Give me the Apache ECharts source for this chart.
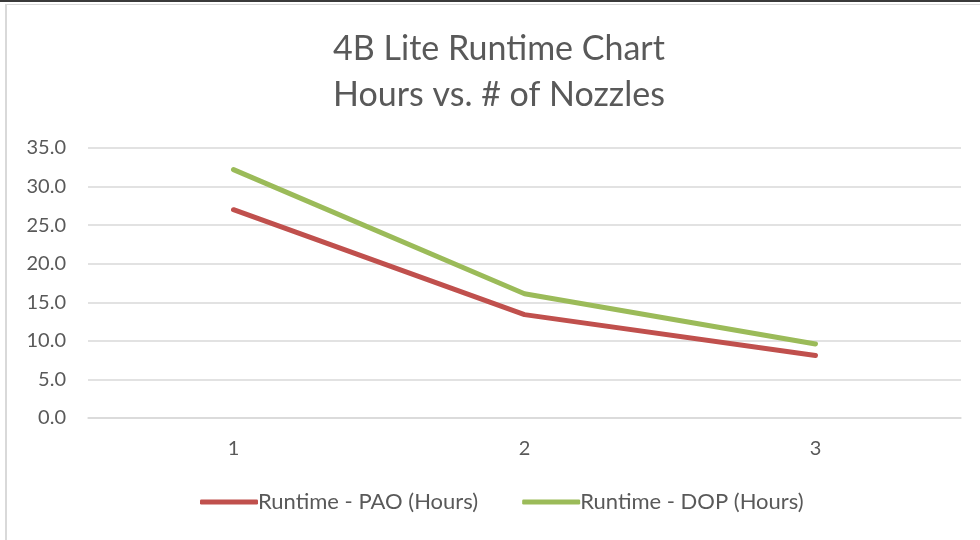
<!DOCTYPE html>
<html>
<head>
<meta charset="utf-8">
<script src="https://cdn.jsdelivr.net/npm/echarts@6/dist/echarts.min.js"></script>
<style>html,body{margin:0;padding:0;background:#fff;}#c{width:980px;height:540px;}</style>
</head>
<body>
<div id="c"></div>
<script>
var titleLines = ['4B Lite Runtime Chart', 'Hours vs. # of Nozzles'];
var categories = ['1', '2', '3'];
var seriesNames = ['Runtime - PAO (Hours)', 'Runtime - DOP (Hours)'];
var paoValues = [27.0, 13.4, 8.1];
var dopValues = [32.2, 16.1, 9.6];
var yMin = 0, yMax = 35, yStep = 5;

var chart = echarts.init(document.getElementById('c'), null, {renderer: 'canvas'});
var font = 'Lato, "Open Sans", "Liberation Sans", sans-serif';
chart.setOption({
  backgroundColor: '#ffffff',
  animation: false,
  graphic: [
    {type: 'rect', shape: {x: 0, y: 0, width: 980, height: 2}, style: {fill: '#3a3a3a'}, silent: true},
    {type: 'rect', shape: {x: 5, y: 4, width: 975, height: 1}, style: {fill: '#d9d9d9'}, silent: true},
    {type: 'rect', shape: {x: 5, y: 4, width: 2, height: 536}, style: {fill: '#d9d9d9'}, silent: true}
  ],
  title: {
    text: titleLines.join('\n'),
    left: 494,
    textAlign: 'center',
    top: 21,
    textStyle: {fontFamily: font, fontSize: 34, fontWeight: 'normal', color: '#595959', lineHeight: 46}
  },
  legend: {
    bottom: 22,
    left: 195,
    itemWidth: 58,
    itemHeight: 5,
    itemGap: 44,
    icon: 'roundRect',
    textStyle: {fontFamily: font, fontSize: 22, color: '#595959', padding: [0, 0, 0, -5]},
    data: seriesNames
  },
  grid: {left: 88, right: 19, top: 148, bottom: 122, containLabel: false},
  xAxis: {
    type: 'category',
    data: categories,
    boundaryGap: true,
    axisLine: {show: true, lineStyle: {color: '#d9d9d9', width: 1.5}},
    axisTick: {show: false},
    axisLabel: {fontFamily: font, fontSize: 20, color: '#595959', margin: 21}
  },
  yAxis: {
    type: 'value',
    min: yMin, max: yMax, interval: yStep,
    axisLine: {show: false},
    axisTick: {show: false},
    splitLine: {lineStyle: {color: '#d9d9d9', width: 1.5}},
    axisLabel: {fontFamily: font, fontSize: 20, color: '#595959', margin: 22,
      formatter: function (v) { return v.toFixed(1); }}
  },
  series: [
    {name: seriesNames[0], type: 'line', data: paoValues, symbol: 'none',
     lineStyle: {color: '#c0504d', width: 5, cap: 'round', join: 'round'}, itemStyle: {color: '#c0504d'}},
    {name: seriesNames[1], type: 'line', data: dopValues, symbol: 'none',
     lineStyle: {color: '#9bbb59', width: 5, cap: 'round', join: 'round'}, itemStyle: {color: '#9bbb59'}}
  ]
});
</script>
</body>
</html>
